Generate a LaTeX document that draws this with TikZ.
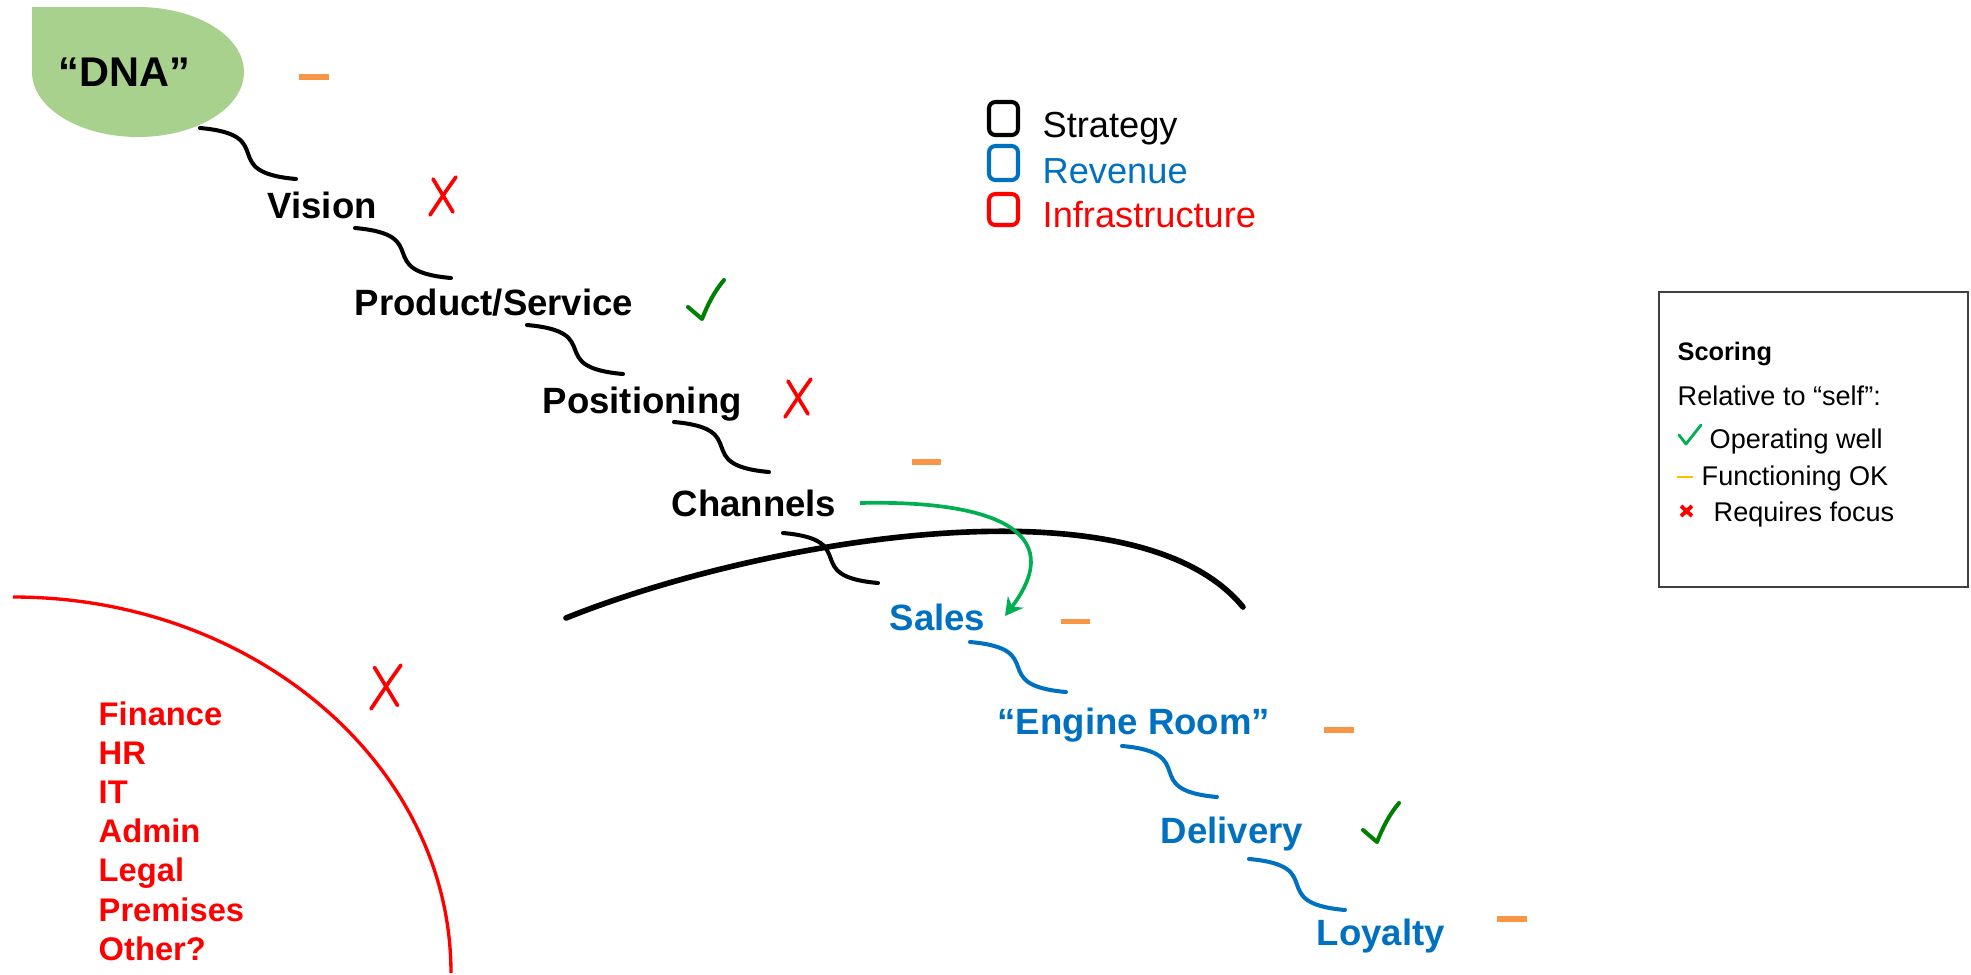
\documentclass[tikz,border=0pt]{standalone}
\usepackage{fontspec}
\setmainfont{Liberation Sans}
\usetikzlibrary{calc,arrows.meta}

\definecolor{revblue}{RGB}{0,112,192}
\definecolor{infred}{RGB}{255,0,0}
\definecolor{okorange}{RGB}{247,150,70}
\definecolor{okgold}{RGB}{255,192,0}
\definecolor{dnagreen}{RGB}{169,209,142}
\definecolor{arrowgreen}{RGB}{0,176,80}
\definecolor{tickgreen}{RGB}{0,128,0}

\tikzset{
  lbl/.style={inner sep=0pt, anchor=base west, font=\fontsize{10.4}{12}\selectfont\bfseries},
  strat/.style={lbl, text=black},
  rev/.style={lbl, text=revblue},
  infitem/.style={inner sep=0pt, anchor=base west, text=infred, font=\fontsize{9.3}{11}\selectfont\bfseries},
  legendtext/.style={inner sep=0pt, anchor=base west, font=\fontsize{10.3}{12}\selectfont},
  boxtext/.style={inner sep=0pt, anchor=base west, font=\fontsize{7.7}{9}\selectfont},
  sconn/.style={line width=1.15pt, line cap=round, out=-5, in=175, looseness=1.9},
  okdash/.style={fill=okorange},
  legendsq/.style={line width=1.15pt, rounded corners=1.8pt},
  tickmark/.pic={
    \draw[tickgreen, line width=1.15pt, line cap=round, line join=round]
      (-14,-12) -- (0,0) .. controls (6,-15) and (12,-27) .. (22,-39);
  },
  crossmark/.pic={
    \draw[infred, line width=1.05pt, line cap=round]
      (13,-19) .. controls (3,-5) .. (-13,19);
    \draw[infred, line width=1.05pt, line cap=round]
      (-10,-17) -- (10,16);
  }
}

\begin{document}
\begin{tikzpicture}[x=0.01cm, y=-0.01cm]
\useasboundingbox (0,0) rectangle (1971,975);

% "DNA" blob
\fill[dnagreen] (32,7) -- (138,7)
  arc[start angle=-90, end angle=180, x radius=106, y radius=65] -- cycle;
\node[inner sep=0pt, anchor=base west, font=\fontsize{11.8}{14}\selectfont\bfseries]
  (dna) at (58,86) {“DNA”};

% chain of labels
\node[strat] (vision)      at (267,218)  {Vision};
\node[strat] (product)     at (354,315)  {Product/Service};
\node[strat] (positioning) at (542,413)  {Positioning};
\node[strat] (channels)    at (671,516)  {Channels};
\node[rev]   (sales)       at (889,630)  {Sales};
\node[rev]   (engine)      at (997,734)  {“Engine Room”};
\node[rev]   (delivery)    at (1160,843) {Delivery};
\node[rev]   (loyalty)     at (1316,945) {Loyalty};

% S-shaped links
\draw[sconn] ($(dna.base west)+(142,42)$) to ($(vision.base west)+(29,-39)$);
\draw[sconn] ($(vision.base west)+(88,10)$) to ($(product.base west)+(97,-37)$);
\draw[sconn] ($(product.base west)+(173,10)$) to ($(positioning.base west)+(81,-39)$);
\draw[sconn] ($(positioning.base west)+(132,9)$) to ($(channels.base west)+(98,-44)$);
\draw[sconn] ($(channels.base west)+(112,17)$) to ($(sales.base west)+(-11,-47)$);
\draw[sconn, revblue] ($(sales.base west)+(81,12)$) to ($(engine.base west)+(69,-42)$);
\draw[sconn, revblue] ($(engine.base west)+(125,12)$) to ($(delivery.base west)+(57,-46)$);
\draw[sconn, revblue] ($(delivery.base west)+(89,16)$) to ($(loyalty.base west)+(29,-35)$);

% dividing arc between strategy and revenue
\draw[line width=1.6pt, line cap=round]
  (566,618) .. controls (760,540) and (1135,475) .. (1243,607);

% channels feeding sales
\draw[arrowgreen, line width=1.05pt, -{Stealth[length=5pt,width=5.5pt]}]
  ($(channels.base west)+(189,-13)$) .. controls (990,500) and (1070,530) ..
  ($(sales.base west)+(116,-14)$);

% infrastructure quadrant
\draw[infred, line width=0.95pt]
  (13,597) arc[start angle=-90, end angle=0, x radius=438, y radius=376];
\foreach \t [count=\i from 0] in {Finance,HR,IT,Admin,Legal,Premises,Other?}
  \node[infitem] (inf\i) at (98,725+39.2*\i) {\t};

% scores
\fill[okdash] (299,74) rectangle (329,80);
\fill[okdash] (912,459) rectangle (941,465);
\fill[okdash] (1061,619) rectangle (1090,624);
\fill[okdash] (1324,727) rectangle (1354,733);
\fill[okdash] (1497,916) rectangle (1527,922);
\pic at (702,319) {tickmark};
\pic at (1377,842) {tickmark};
\pic at (443,196) {crossmark};
\pic at (798,398) {crossmark};
\pic[scale=1.15] at (386,687) {crossmark};

% colour legend
\draw[legendsq, black]   (989,102) rectangle (1018,135);
\draw[legendsq, revblue] (989,146) rectangle (1018,180);
\draw[legendsq, infred]  (989,194) rectangle (1018,225);
\node[legendtext] (lstrat) at (1042,137) {Strategy};
\node[legendtext, text=revblue] (lrev) at (1042,183) {Revenue};
\node[legendtext, text=infred] (linf) at (1042,227) {Infrastructure};

% scoring key
\node[draw=black!75, line width=0.45pt, minimum width=3.09cm, minimum height=2.95cm,
  inner sep=0pt] (scorebox) at (1813.5,439.5) {};
\node[boxtext, font=\fontsize{7.2}{9}\selectfont\bfseries] (scoring) at (1677,360) {Scoring};
\node[boxtext] (relative) at (1677,405) {Relative to “self”:};
\draw[arrowgreen, line width=0.8pt, line cap=round, line join=round]
  (1679,435) -- (1686,444) -- (1701,425);
\node[boxtext] (opwell) at (1709,448) {Operating well};
\draw[okgold, line width=0.7pt] (1677,477) -- (1693,477);
\node[boxtext] (funcok) at (1701,485) {Functioning OK};
\draw[infred, line width=1.1pt] (1681,506) -- (1692,516) (1692,506) -- (1681,516);
\node[boxtext] (reqfocus) at (1713,521) {Requires focus};
\end{tikzpicture}
\end{document}
